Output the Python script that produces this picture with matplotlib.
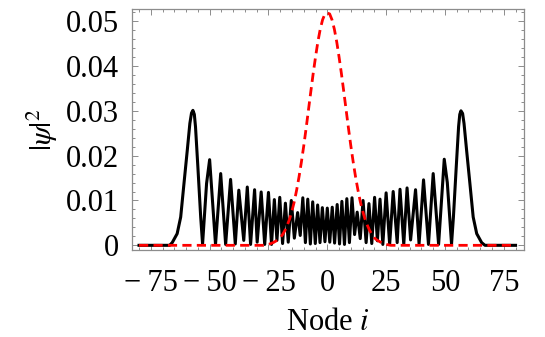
import matplotlib
matplotlib.use('Agg')
import matplotlib.pyplot as plt
from matplotlib.ticker import MultipleLocator, FixedLocator

# %% Data

# black curve: |psi|^2 after the walk (peaks, troughs and flanks)
walk_x = [-80, -67, -65.9, -63.8, -62.3, -60.9, -59.5, -58.4, -57.7, -57.1, -56.5, -56.0,
          -55.0, -53.8, -53.0, -51.3, -50.0, -47.5, -45.3, -43.2, -41.1, -39.1, -37.6,
          -35.5, -34.0, -32.6, -30.9, -29.8, -28.1, -26.6, -25.0, -23.7, -22.5, -21.4,
          -20.2, -19.0, -17.8, -16.6, -15.3, -14.0, -12.6, -11.5, -10.4, -9.3, -8.3,
          -7.2, -6.2, -5.1, -4.1, -3.1, -2.1, -1.0, 0.0,
          1.05, 2.1, 3.1, 4.2, 5.2, 6.2, 7.3, 8.3, 9.4, 10.5, 11.6, 12.7, 14.0, 15.2,
          16.5, 17.7, 18.9, 20.1, 21.3, 22.4, 23.6, 25.0, 26.5, 28.0, 29.7, 30.9, 32.5,
          33.9, 35.4, 37.5, 39.0, 40.9, 43.0, 45.0, 47.3, 49.7, 51.0, 52.8, 53.6, 54.8,
          55.8, 56.3, 56.8, 57.5, 58.1, 59.2, 60.6, 62.0, 63.5, 65.6, 67, 80]
walk_psi = [0.0, 0.0, 0.0006, 0.0026, 0.0063, 0.0138, 0.0212, 0.0272, 0.0295, 0.0301, 0.0292, 0.0264,
            0.0175, 0.0063, 0.0003, 0.0138, 0.0191, 0.0002, 0.0160, 0.0002, 0.0147, 0.0003, 0.0123,
            0.0011, 0.0130, 0.0002, 0.0124, 0.0007, 0.0119, 0.0002, 0.0118, 0.0002, 0.0102, 0.0011,
            0.0107, 0.0004, 0.0094, 0.0007, 0.0100, 0.0016, 0.0073, 0.0022, 0.0106, 0.0006, 0.0103,
            0.0003, 0.0097, 0.0004, 0.0090, 0.0006, 0.0084, 0.0008, 0.0083,
            0.0007, 0.0085, 0.0005, 0.0091, 0.0003, 0.0098, 0.0002, 0.0104, 0.0006, 0.0106, 0.0024,
            0.0074, 0.0015, 0.0100, 0.0006, 0.0093, 0.0004, 0.0107, 0.0010, 0.0103, 0.0002, 0.0117,
            0.0002, 0.0120, 0.0006, 0.0125, 0.0002, 0.0128, 0.0012, 0.0124, 0.0003, 0.0146, 0.0002,
            0.0160, 0.0002, 0.0192, 0.0140, 0.0003, 0.0063, 0.0175, 0.0265, 0.0292, 0.0300, 0.0294,
            0.0272, 0.0212, 0.0138, 0.0063, 0.0026, 0.0006, 0.0, 0.0]

# red dashed curve: initial wave packet
init_x = [-80, -27, -26, -25, -24, -23, -22, -21, -20, -19, -18, -17, -16, -15, -14,
          -13, -12, -11, -10, -9, -8, -7, -6, -5, -4, -3, -2, -1, 0,
          1, 2, 3, 4, 5, 6, 7, 8, 9, 10, 11, 12, 13, 14, 15, 16, 17, 18, 19, 20,
          21, 22, 23, 24, 25, 26, 27, 80]
init_psi = [0.0, 0.0, 0.0001, 0.0002, 0.0004, 0.0006, 0.0009, 0.0012, 0.0017, 0.0024,
            0.0033, 0.0045, 0.0059, 0.0077, 0.0098, 0.0124, 0.0153, 0.0186, 0.0222,
            0.0261, 0.0302, 0.0343, 0.0383, 0.0420, 0.0454, 0.0482, 0.0503, 0.0516,
            0.0518,
            0.0516, 0.0503, 0.0482, 0.0454, 0.0420, 0.0383, 0.0343, 0.0302, 0.0261,
            0.0222, 0.0186, 0.0153, 0.0124, 0.0098, 0.0077, 0.0059, 0.0045, 0.0033,
            0.0024, 0.0017, 0.0012, 0.0009, 0.0006, 0.0004, 0.0002, 0.0001, 0.0, 0.0]

x_ticks = [-75, -50, -25, 0, 25, 50, 75]
x_tick_labels = ['\u2212\u200975', '\u2212\u200950', '\u2212\u200925', '0', '25', '50', '75']
y_ticks = [0, 0.01, 0.02, 0.03, 0.04, 0.05]
y_tick_labels = ['0', '0.01', '0.02', '0.03', '0.04', '0.05']

# %% Plot

plt.rcParams['font.family'] = ['Liberation Serif', 'DejaVu Serif']
plt.rcParams['mathtext.fontset'] = 'stix'

fig = plt.figure(figsize=(5.45, 3.37), dpi=100)
ax = fig.add_axes([0.2413, 0.2582, 0.9615 - 0.2413, 0.9733 - 0.2582])

ax.plot(walk_x, walk_psi, color='black', lw=2.2, zorder=2, solid_joinstyle='round')
ax.plot(init_x, init_psi, color='red', lw=2.0, linestyle=(0, (3.3, 1.9)), zorder=3)

ax.set_xlim(-83.2, 83.6)
ax.set_ylim(-0.00104, 0.0527)

#Frame and ticks on all sides, Mathematica style
frameGrey = '#8c8c8c'
for sp in ax.spines.values():
    sp.set_color(frameGrey)
    sp.set_linewidth(0.9)

ax.xaxis.set_major_locator(FixedLocator(x_ticks))
ax.set_xticklabels(x_tick_labels)
ax.xaxis.set_minor_locator(MultipleLocator(5))
ax.yaxis.set_major_locator(FixedLocator(y_ticks))
ax.set_yticklabels(y_tick_labels)
ax.yaxis.set_minor_locator(MultipleLocator(0.002))

ax.tick_params(which='both', direction='in', top=True, right=True,
               color=frameGrey, width=0.7, labelsize=22, labelcolor='black')
ax.tick_params(which='major', length=4)
ax.tick_params(which='minor', length=2)
ax.tick_params(axis='x', pad=14)
ax.tick_params(axis='y', pad=9)

ax.set_xlabel('Node $i$', fontsize=22, labelpad=7)
ax.set_ylabel(r'$|\psi|^2$', fontsize=22, labelpad=4)

plt.savefig('out.png', dpi=100)
plt.close()
